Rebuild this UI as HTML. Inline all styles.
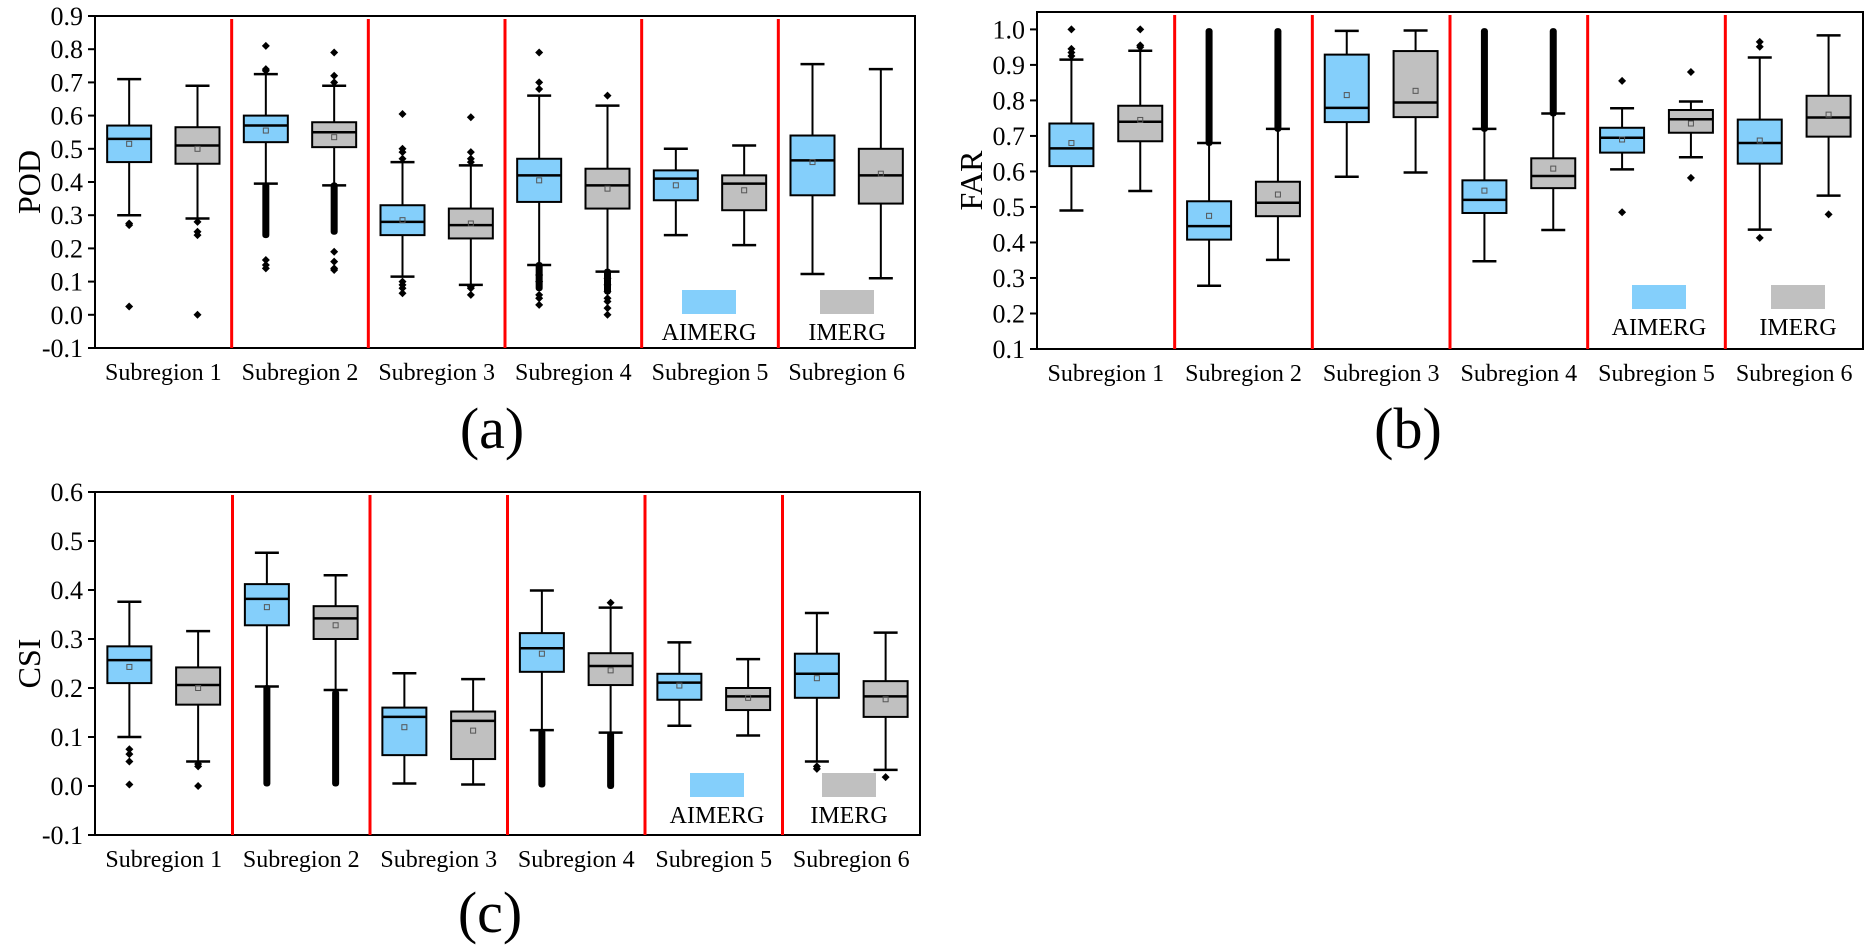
<!DOCTYPE html>
<html><head><meta charset="utf-8"><style>
html,body{margin:0;padding:0;background:#fff;}
svg{display:block;font-family:"Liberation Serif",serif;}
</style></head><body>
<svg id="fig" width="1871" height="952" viewBox="0 0 1871 952" xmlns="http://www.w3.org/2000/svg"></svg>
<script>
const categories = ["Subregion 1","Subregion 2","Subregion 3","Subregion 4","Subregion 5","Subregion 6"];
const seriesNames = ["AIMERG","IMERG"];
// each box: [lowWhisker, Q1, median, Q3, highWhisker, mean]
const podAimerg = [[0.30,0.46,0.53,0.57,0.71,0.515],[0.395,0.52,0.57,0.60,0.725,0.555],[0.115,0.24,0.28,0.33,0.46,0.285],[0.15,0.34,0.42,0.47,0.66,0.405],[0.24,0.345,0.41,0.435,0.50,0.39],[0.123,0.36,0.465,0.54,0.755,0.46]];
const podImerg  = [[0.29,0.455,0.51,0.565,0.69,0.50],[0.39,0.505,0.55,0.58,0.69,0.535],[0.09,0.23,0.27,0.32,0.45,0.275],[0.13,0.32,0.39,0.44,0.63,0.38],[0.21,0.315,0.395,0.42,0.51,0.375],[0.11,0.335,0.42,0.50,0.74,0.425]];
const podAimergOut = [[0.275,0.27,0.025],[0.81,0.74,0.735,0.165,0.15,0.14],[0.605,0.50,0.49,0.47,0.10,0.09,0.08,0.065],[0.79,0.70,0.68,0.12,0.10,0.06,0.05,0.03],[],[]];
const podImergOut  = [[0.28,0.25,0.24,0.0],[0.79,0.72,0.70,0.19,0.16,0.14,0.135],[0.595,0.49,0.47,0.46,0.085,0.08,0.06],[0.66,0.11,0.09,0.07,0.05,0.04,0.02,0.0],[],[]];
const podAimergDense = [[],[0.24,0.39],[],[0.08,0.15],[],[]];
const podImergDense  = [[],[0.25,0.39],[],[0.07,0.13],[],[]];

const farAimerg = [[0.49,0.615,0.665,0.735,0.915,0.68],[0.278,0.408,0.446,0.516,0.68,0.475],[0.585,0.739,0.779,0.929,0.996,0.815],[0.347,0.483,0.52,0.575,0.72,0.546],[0.606,0.653,0.695,0.723,0.778,0.69],[0.436,0.622,0.68,0.746,0.921,0.687]];
const farImerg  = [[0.545,0.685,0.74,0.785,0.94,0.745],[0.351,0.474,0.512,0.571,0.72,0.535],[0.597,0.753,0.794,0.939,0.997,0.827],[0.435,0.553,0.587,0.637,0.763,0.608],[0.64,0.709,0.747,0.773,0.797,0.735],[0.532,0.698,0.752,0.813,0.983,0.76]];
const farAimergOut = [[1.0,0.945,0.935,0.925],[],[],[],[0.855,0.485],[0.965,0.951,0.413]];
const farImergOut  = [[1.0,0.955,0.95],[],[],[],[0.88,0.582],[0.479]];
const farAimergDense = [[],[0.68,0.995],[],[0.72,0.995],[],[]];
const farImergDense  = [[],[0.72,0.995],[],[0.763,0.995],[],[]];

const csiAimerg = [[0.10,0.21,0.257,0.285,0.376,0.243],[0.203,0.328,0.382,0.412,0.476,0.365],[0.005,0.063,0.141,0.16,0.23,0.12],[0.114,0.233,0.281,0.312,0.399,0.27],[0.123,0.176,0.211,0.229,0.293,0.205],[0.05,0.18,0.229,0.27,0.353,0.22]];
const csiImerg  = [[0.05,0.166,0.206,0.242,0.316,0.20],[0.196,0.30,0.342,0.367,0.43,0.328],[0.003,0.055,0.133,0.152,0.218,0.113],[0.109,0.206,0.245,0.271,0.364,0.236],[0.103,0.155,0.183,0.20,0.259,0.18],[0.033,0.141,0.183,0.214,0.313,0.177]];
const csiAimergOut = [[0.075,0.065,0.05,0.003],[],[],[],[],[0.04,0.035]];
const csiImergOut  = [[0.045,0.04,0.0],[],[],[0.374],[],[0.018]];
const csiAimergDense = [[],[0.005,0.2],[],[0.003,0.11],[],[]];
const csiImergDense  = [[],[0.005,0.19],[],[0.0,0.105],[],[]];

const podTicks = ["-0.1","0.0","0.1","0.2","0.3","0.4","0.5","0.6","0.7","0.8","0.9"];
const farTicks = ["0.1","0.2","0.3","0.4","0.5","0.6","0.7","0.8","0.9","1.0"];
const csiTicks = ["-0.1","0.0","0.1","0.2","0.3","0.4","0.5","0.6"];

const NS="http://www.w3.org/2000/svg";
const svg=document.getElementById('fig');
function mk(tag,attrs,parent){const e=document.createElementNS(NS,tag);for(const k in attrs)e.setAttribute(k,attrs[k]);(parent||svg).appendChild(e);return e;}
const BLUE="#84cffb", GRAY="#c0c0c0";

function panel(cfg){
  const g=mk('g',{});
  
  
  const {L,R,T,B,vmin,vmax}=cfg;
  const y=v=>B-(v-vmin)/(vmax-vmin)*(B-T);
  const sw=(R-L)/6;
  const xc=(i,s)=>L+sw*i+sw*(s===0?0.25:0.75);
  // frame
  const fr=mk('rect',{x:L,y:T,width:R-L,height:B-T,fill:'none',stroke:'#000','stroke-width':2},g);
  
  
  // separators
  for(let i=1;i<6;i++){
    const l=mk('line',{x1:L+sw*i,x2:L+sw*i,y1:T+3,y2:B,stroke:'#ff0000','stroke-width':3},g);
    
    
  }
  // ticks
  cfg.ticks.forEach(t=>{
    const v=parseFloat(t), yy=y(v);
    mk('line',{x1:L-7,x2:L,y1:yy,y2:yy,stroke:'#000','stroke-width':2},g);
    const tx=mk('text',{x:L-12,y:yy+9,'text-anchor':'end','font-size':26},g);
    tx.textContent=t;
    
    
  });
  const yt=mk('text',{x:0,y:0,'text-anchor':'middle','font-size':32,transform:`translate(${cfg.titleX},${(T+B)/2}) rotate(-90)`},g);
  yt.textContent=cfg.title;
  
  
  categories.forEach((c,i)=>{
    const tx=mk('text',{x:L+sw*i+sw/2,y:B+32,'text-anchor':'middle','font-size':24},g);
    tx.textContent=c;
    
    
  });
  // boxes
  const series=[[cfg.a,cfg.aOut,cfg.aDense,BLUE],[cfg.b,cfg.bOut,cfg.bDense,GRAY]];
  series.forEach((s,si)=>{
    s[0].forEach((bx,i)=>{
      const cx=xc(i,si), hw=22, cw=12;
      const bg=mk('g',{},g);
      
      
      // dense outliers
      const d=s[2][i];
      if(d.length){
        mk('rect',{x:cx-3.5,y:y(d[1])-3,width:7,height:y(d[0])-y(d[1])+6,rx:3,fill:'#000'},bg);
      }
      mk('line',{x1:cx,x2:cx,y1:y(bx[4]),y2:y(bx[0]),stroke:'#000','stroke-width':2},bg);
      mk('line',{x1:cx-cw,x2:cx+cw,y1:y(bx[4]),y2:y(bx[4]),stroke:'#000','stroke-width':2.5},bg);
      mk('line',{x1:cx-cw,x2:cx+cw,y1:y(bx[0]),y2:y(bx[0]),stroke:'#000','stroke-width':2.5},bg);
      mk('rect',{x:cx-hw,y:y(bx[3]),width:2*hw,height:y(bx[1])-y(bx[3]),fill:s[3],stroke:'#000','stroke-width':2},bg);
      mk('line',{x1:cx-hw,x2:cx+hw,y1:y(bx[2]),y2:y(bx[2]),stroke:'#000','stroke-width':2.5},bg);
      mk('rect',{x:cx-2.5,y:y(bx[5])-2.5,width:5,height:5,fill:'none',stroke:'#555','stroke-width':1},bg);
      s[1][i].forEach(o=>{
        const yy=y(o);
        mk('path',{d:`M${cx} ${yy-4}L${cx+4} ${yy}L${cx} ${yy+4}L${cx-4} ${yy}Z`,fill:'#000'},bg);
      });
    });
  });
  // legend
  [[cfg.leg[0],BLUE,'AIMERG'],[cfg.leg[1],GRAY,'IMERG']].forEach(([lx,col,name])=>{
    const lg=mk('g',{},g);
    
    
    mk('rect',{x:lx,y:cfg.legY,width:54,height:24,fill:col},lg);
    const t=mk('text',{x:lx+27,y:cfg.legY+50,'text-anchor':'middle','font-size':24},lg);
    t.textContent=name;
  });
  const pl=mk('text',{x:cfg.labX,y:cfg.labY,'text-anchor':'middle','font-size':58},g);
  pl.textContent=cfg.label;
  
  
}

panel({name:'pod',L:95,R:915,T:16,B:348,vmin:-0.1,vmax:0.9,ticks:podTicks,title:'POD',titleX:40,
  a:podAimerg,b:podImerg,aOut:podAimergOut,bOut:podImergOut,aDense:podAimergDense,bDense:podImergDense,
  leg:[682,820],legY:290,label:'(a)',labX:492,labY:448});
panel({name:'far',L:1037,R:1863,T:12,B:349,vmin:0.1,vmax:1.049,ticks:farTicks,title:'FAR',titleX:982,
  a:farAimerg,b:farImerg,aOut:farAimergOut,bOut:farImergOut,aDense:farAimergDense,bDense:farImergDense,
  leg:[1632,1771],legY:285,label:'(b)',labX:1408,labY:448});
panel({name:'csi',L:95,R:920,T:492,B:835,vmin:-0.1,vmax:0.6,ticks:csiTicks,title:'CSI',titleX:40,
  a:csiAimerg,b:csiImerg,aOut:csiAimergOut,bOut:csiImergOut,aDense:csiAimergDense,bDense:csiImergDense,
  leg:[690,822],legY:773,label:'(c)',labX:490,labY:932});
</script>
</body></html>
